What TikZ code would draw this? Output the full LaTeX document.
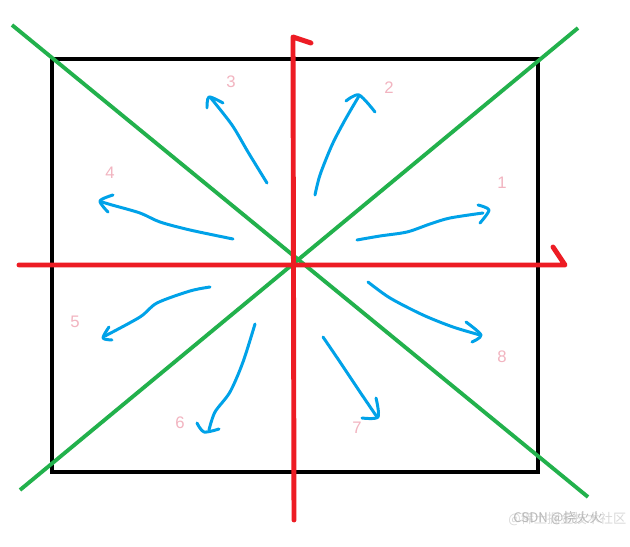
\documentclass[tikz,border=0pt]{standalone}
\usepackage{fontspec}
\setmainfont{Liberation Sans}
\newfontfamily\cjkfont{Noto Sans CJK SC}
\usetikzlibrary{calc}
\definecolor{paintred}{RGB}{237,28,36}
\definecolor{paintgreen}{RGB}{34,177,76}
\definecolor{paintblue}{RGB}{0,162,232}
\definecolor{numpink}{RGB}{242,180,192}
\tikzstyle{boxline} = [draw=black, line width=2.3pt]
\tikzstyle{axisline} = [draw=paintred, line width=2.8pt, line cap=round, line join=round]
\tikzstyle{diagline} = [draw=paintgreen, line width=2.2pt]
\tikzstyle{bluearrow} = [draw=paintblue, line width=1.7pt, line cap=round, line join=round]
\tikzstyle{dirnum} = [text=numpink, font=\fontsize{9.5}{11}\selectfont, inner sep=0pt]
\tikzstyle{watermark} = [font=\cjkfont\fontsize{7.5}{9}\selectfont, inner sep=0pt, anchor=west]

\begin{document}
\begin{tikzpicture}[x=0.02cm, y=-0.02cm]
    \useasboundingbox[fill=white] (0,0) rectangle (630,547);

    % square
    \coordinate (tl) at (52,59);
    \coordinate (br) at (538,472);
    \draw[boxline] (tl) rectangle (br);

    % diagonals
    \coordinate (d1a) at (12,25);
    \coordinate (d1b) at (588,497);
    \coordinate (d2a) at (578,28);
    \coordinate (d2b) at (20,490);
    \draw[diagline] (d1a) -- (d1b);
    \draw[diagline] (d2a) -- (d2b);

    % axes with half arrow heads
    \coordinate (ybot) at (294,520);
    \coordinate (ytop) at (293,37);
    \coordinate (yhook) at (311,43);
    \coordinate (xleft) at (19,265);
    \coordinate (xright) at (565,265);
    \coordinate (xhook) at (553,247);
    \draw[axisline] (ybot) -- (ytop) -- (yhook);
    \draw[axisline] (xleft) -- (xright) -- (xhook);

    % hand drawn arrows
    \coordinate (s1) at (357,240);
    \coordinate (t1) at (483,213);
    \draw[bluearrow] plot[smooth] coordinates {(s1) (380,236) (407,232) (430,224) (450,218) (t1)};
    \draw[bluearrow] plot[smooth] coordinates {(478,205) (489,210) (480,223)};

    \coordinate (s2) at (315,195);
    \coordinate (t2) at (359,96);
    \draw[bluearrow] plot[smooth] coordinates {(s2) (320,175) (332,145) (345,120) (t2)};
    \draw[bluearrow] plot[smooth] coordinates {(346,101) (359,95) (375,112)};

    \coordinate (s3) at (267,183);
    \coordinate (t3) at (210,97);
    \draw[bluearrow] plot[smooth] coordinates {(s3) (248,152) (232,125) (t3)};
    \draw[bluearrow] plot[smooth] coordinates {(207,108) (209,97) (223,103)};

    \coordinate (s4) at (233,239);
    \coordinate (t4) at (102,202);
    \draw[bluearrow] plot[smooth] coordinates {(s4) (190,230) (160,222) (140,213) (112,205) (t4)};
    \draw[bluearrow] plot[smooth] coordinates {(113,195) (100,201) (108,212)};

    \coordinate (s5) at (210,287);
    \coordinate (t5) at (105,336);
    \draw[bluearrow] plot[smooth] coordinates {(s5) (190,291) (157,303) (140,317) (t5)};
    \draw[bluearrow] plot[smooth] coordinates {(109,327) (103,338) (112,340)};

    \coordinate (s6) at (255,324);
    \coordinate (t6) at (209,430);
    \draw[bluearrow] plot[smooth] coordinates {(s6) (243,362) (230,392) (215,412) (t6)};
    \draw[bluearrow] plot[smooth] coordinates {(197,423) (204,432) (219,429)};

    \coordinate (s7) at (323,337);
    \coordinate (t7) at (377,417);
    \draw[bluearrow] plot[smooth] coordinates {(s7) (340,362) (360,392) (t7)};
    \draw[bluearrow] plot[smooth] coordinates {(376,398) (378,417) (362,418)};

    \coordinate (s8) at (368,282);
    \coordinate (t8) at (480,335);
    \draw[bluearrow] plot[smooth] coordinates {(s8) (390,298) (423,315) (453,327) (t8)};
    \draw[bluearrow] plot[smooth] coordinates {(466,322) (481,335) (472,342)};

    % direction numbers
    \node[dirnum] (num1) at (502,183) {1};
    \node[dirnum] (num2) at (389,88) {2};
    \node[dirnum] (num3) at (231,82) {3};
    \node[dirnum] (num4) at (110,173) {4};
    \node[dirnum] (num5) at (75,322) {5};
    \node[dirnum] (num6) at (180,423) {6};
    \node[dirnum] (num7) at (357,428) {7};
    \node[dirnum] (num8) at (502,357) {8};

    % watermark
    \node[watermark, text=gray!30] (wm1) at (508,519) {@稀土掘金技术社区};
    \node[watermark, text=gray!55] (wm2) at (513,518) {CSDN @挠火火};
\end{tikzpicture}
\end{document}
